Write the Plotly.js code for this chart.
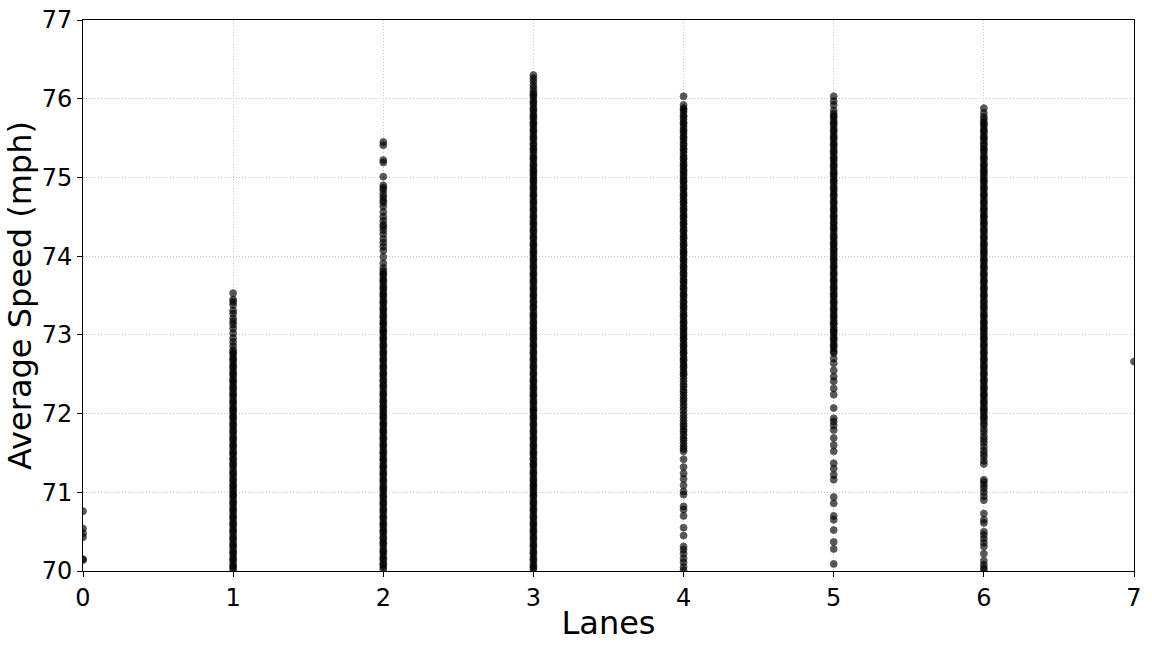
<!DOCTYPE html>
<html>
<head>
<meta charset="utf-8">
<script src="https://cdn.plot.ly/plotly-3.0.1.min.js"></script>
<style>
  html, body { margin: 0; padding: 0; background: #fff; }
  #chart { width: 1152px; height: 648px; }
</style>
</head>
<body>
<div id="chart"></div>
<script>
/* Average speed per segment, grouped by number of lanes */
const lanes = [0, 1, 2, 3, 4, 5, 6, 7];

const speedsLane0 = [70.14, 70.15, 70.43, 70.48, 70.54, 70.76];

const speedsLane1 = [
  70.01,70.04,70.06,70.09,70.13,70.15,70.18,70.22,70.24,70.27,70.31,70.33,70.36,70.40,70.42,70.45,70.49,70.51,70.54,70.58,70.60,70.63,70.67,70.69,70.72,70.76,70.78,70.81,70.85,70.87,70.90,70.94,70.96,70.99,
  71.02,71.05,71.08,71.10,71.14,71.16,71.19,71.23,71.25,71.28,71.32,71.35,71.37,71.41,71.43,71.47,71.50,71.52,71.56,71.59,71.61,71.65,71.68,71.70,71.74,71.77,71.79,71.83,71.86,71.88,71.92,71.95,71.97,
  72.01,72.04,72.06,72.09,72.13,72.15,72.18,72.22,72.24,72.27,72.31,72.33,72.36,72.40,72.42,72.45,72.49,72.51,72.54,72.58,72.60,72.63,72.67,72.69,72.72,72.76,72.78,72.81,
  72.86,72.91,72.96,73.02,73.08,73.13,73.17,73.21,73.27,73.31,73.38,73.42,73.45,73.53
];

const speedsLane2 = [
  70.02,70.05,70.08,70.10,70.14,70.16,70.19,70.23,70.25,70.28,70.32,70.35,70.37,70.41,70.43,70.47,70.50,70.52,70.56,70.59,70.61,70.65,70.68,70.70,70.74,70.77,70.79,70.83,70.86,70.88,70.92,70.95,70.97,
  71.01,71.04,71.06,71.09,71.13,71.15,71.18,71.22,71.24,71.27,71.31,71.33,71.36,71.40,71.42,71.45,71.49,71.51,71.54,71.58,71.60,71.63,71.67,71.69,71.72,71.76,71.78,71.81,71.85,71.87,71.90,71.94,71.96,71.99,
  72.02,72.05,72.08,72.10,72.14,72.16,72.19,72.23,72.25,72.28,72.32,72.35,72.37,72.41,72.43,72.47,72.50,72.52,72.56,72.59,72.61,72.65,72.68,72.70,72.74,72.77,72.79,72.83,72.86,72.88,72.92,72.95,72.97,
  73.01,73.04,73.06,73.09,73.13,73.15,73.18,73.22,73.24,73.27,73.31,73.33,73.36,73.40,73.42,73.45,73.49,73.51,73.54,73.58,73.60,73.63,73.67,73.69,73.72,73.76,73.78,73.81,73.85,
  73.91,73.99,74.07,74.12,74.17,74.22,74.28,74.33,74.37,74.40,74.45,74.50,74.56,74.63,74.68,74.71,74.75,74.79,74.84,74.87,74.90,75.01,75.19,75.22,75.41,75.45
];

const speedsLane3 = [
  70.01,70.04,70.06,70.09,70.13,70.15,70.18,70.22,70.24,70.27,70.31,70.33,70.36,70.40,70.42,70.45,70.49,70.51,70.54,70.58,70.60,70.63,70.67,70.69,70.72,70.76,70.78,70.81,70.85,70.87,70.90,70.94,70.96,70.99,
  71.02,71.05,71.08,71.10,71.14,71.16,71.19,71.23,71.25,71.28,71.32,71.35,71.37,71.41,71.43,71.47,71.50,71.52,71.56,71.59,71.61,71.65,71.68,71.70,71.74,71.77,71.79,71.83,71.86,71.88,71.92,71.95,71.97,
  72.01,72.04,72.06,72.09,72.13,72.15,72.18,72.22,72.24,72.27,72.31,72.33,72.36,72.40,72.42,72.45,72.49,72.51,72.54,72.58,72.60,72.63,72.67,72.69,72.72,72.76,72.78,72.81,72.85,72.87,72.90,72.94,72.96,72.99,
  73.02,73.05,73.08,73.10,73.14,73.16,73.19,73.23,73.25,73.28,73.32,73.35,73.37,73.41,73.43,73.47,73.50,73.52,73.56,73.59,73.61,73.65,73.68,73.70,73.74,73.77,73.79,73.83,73.86,73.88,73.92,73.95,73.97,
  74.01,74.04,74.06,74.09,74.13,74.15,74.18,74.22,74.24,74.27,74.31,74.33,74.36,74.40,74.42,74.45,74.49,74.51,74.54,74.58,74.60,74.63,74.67,74.69,74.72,74.76,74.78,74.81,74.85,74.87,74.90,74.94,74.96,74.99,
  75.02,75.05,75.08,75.10,75.14,75.16,75.19,75.23,75.25,75.28,75.32,75.35,75.37,75.41,75.43,75.47,75.50,75.52,75.56,75.59,75.61,75.65,75.68,75.70,75.74,75.77,75.79,75.83,75.86,75.88,75.92,75.95,75.97,
  76.01,76.04,76.06,76.09,76.13,76.17,76.22,76.26,76.30
];

const speedsLane4 = [
  70.01,70.05,70.11,70.16,70.22,70.27,70.31,70.45,70.55,70.70,70.78,70.82,70.97,71.01,71.09,71.17,71.24,71.32,71.42,
  71.52,71.55,71.58,71.62,71.66,71.69,71.73,71.77,71.80,71.84,71.87,71.91,71.95,71.99,72.04,72.08,72.12,72.16,72.19,72.23,72.27,72.30,72.34,72.37,72.41,
  72.45,72.49,72.51,72.54,72.58,72.60,72.63,72.67,72.69,72.72,72.76,72.78,72.81,72.85,72.87,72.90,72.94,72.96,72.99,
  73.02,73.05,73.08,73.10,73.14,73.16,73.19,73.23,73.25,73.28,73.32,73.35,73.37,73.41,73.43,73.47,73.50,73.52,73.56,73.59,73.61,73.65,73.68,73.70,73.74,73.77,73.79,73.83,73.86,73.88,73.92,73.95,73.97,
  74.01,74.04,74.06,74.09,74.13,74.15,74.18,74.22,74.24,74.27,74.31,74.33,74.36,74.40,74.42,74.45,74.49,74.51,74.54,74.58,74.60,74.63,74.67,74.69,74.72,74.76,74.78,74.81,74.85,74.87,74.90,74.94,74.96,74.99,
  75.02,75.05,75.08,75.10,75.14,75.16,75.19,75.23,75.25,75.28,75.32,75.35,75.37,75.41,75.43,75.47,75.50,75.52,75.56,75.59,75.61,75.65,75.68,75.70,75.74,75.77,75.79,75.83,75.86,75.88,75.92,
  76.03
];

const speedsLane5 = [
  70.09,70.28,70.37,70.52,70.65,70.70,70.86,70.94,71.16,71.22,71.30,71.37,71.52,71.60,71.69,71.79,71.85,71.90,71.94,72.07,72.24,72.32,72.41,72.47,72.55,72.64,72.70,
  72.77,72.79,72.83,72.86,72.88,72.92,72.95,72.97,
  73.01,73.04,73.06,73.09,73.13,73.15,73.18,73.22,73.24,73.27,73.31,73.33,73.36,73.40,73.42,73.45,73.49,73.51,73.54,73.58,73.60,73.63,73.67,73.69,73.72,73.76,73.78,73.81,73.85,73.87,73.90,73.94,73.96,73.99,
  74.02,74.05,74.08,74.10,74.14,74.16,74.19,74.23,74.25,74.28,74.32,74.35,74.37,74.41,74.43,74.47,74.50,74.52,74.56,74.59,74.61,74.65,74.68,74.70,74.74,74.77,74.79,74.83,74.86,74.88,74.92,74.95,74.97,
  75.01,75.04,75.06,75.09,75.13,75.15,75.18,75.22,75.24,75.27,75.31,75.33,75.36,75.40,75.42,75.45,75.49,75.51,75.54,75.58,75.60,75.63,75.67,75.69,75.72,75.76,75.78,75.81,75.85,
  75.92,75.97,76.03
];

const speedsLane6 = [
  70.01,70.04,70.08,70.13,70.22,70.31,70.36,70.41,70.46,70.50,70.61,70.65,70.73,70.90,70.95,71.00,71.05,71.09,71.13,71.16,
  71.36,71.40,71.45,71.49,71.53,71.58,71.63,71.67,71.71,71.76,71.80,71.85,71.88,
  71.92,71.95,71.97,
  72.01,72.04,72.06,72.09,72.13,72.15,72.18,72.22,72.24,72.27,72.31,72.33,72.36,72.40,72.42,72.45,72.49,72.51,72.54,72.58,72.60,72.63,72.67,72.69,72.72,72.76,72.78,72.81,72.85,72.87,72.90,72.94,72.96,72.99,
  73.02,73.05,73.08,73.10,73.14,73.16,73.19,73.23,73.25,73.28,73.32,73.35,73.37,73.41,73.43,73.47,73.50,73.52,73.56,73.59,73.61,73.65,73.68,73.70,73.74,73.77,73.79,73.83,73.86,73.88,73.92,73.95,73.97,
  74.01,74.04,74.06,74.09,74.13,74.15,74.18,74.22,74.24,74.27,74.31,74.33,74.36,74.40,74.42,74.45,74.49,74.51,74.54,74.58,74.60,74.63,74.67,74.69,74.72,74.76,74.78,74.81,74.85,74.87,74.90,74.94,74.96,74.99,
  75.02,75.05,75.08,75.10,75.14,75.16,75.19,75.23,75.25,75.28,75.32,75.35,75.37,75.41,75.43,75.47,75.50,75.52,75.56,75.59,75.61,75.65,75.68,75.70,75.74,75.77,
  75.82,75.88
];

const speedsLane7 = [72.66];

const speedsByLane = [speedsLane0, speedsLane1, speedsLane2, speedsLane3, speedsLane4, speedsLane5, speedsLane6, speedsLane7];

/* flatten into one scatter trace */
const xs = [], ys = [];
lanes.forEach((ln, i) => {
  for (const v of speedsByLane[i]) { xs.push(ln); ys.push(v); }
});

const FONT = 'DejaVu Sans, sans-serif';
const gridc = '#b8b8b8';

const trace = {
  x: xs, y: ys,
  type: 'scatter',
  mode: 'markers',
  marker: { color: '#000', size: 7, opacity: 0.65, line: { width: 0.8, color: '#000' } },
  cliponaxis: true,
  showlegend: false,
  hoverinfo: 'x+y',
};

const axisBase = {
  showline: true, mirror: true, linecolor: '#000', linewidth: 1,
  ticks: 'outside', ticklen: 5, tickwidth: 1, tickcolor: '#000',
  showgrid: true, gridcolor: gridc, gridwidth: 0.8, griddash: '1px,2px',
  zeroline: false, dtick: 1,
  tickfont: { family: FONT, size: 24, color: '#000' },
};

const layout = {
  width: 1152, height: 648,
  paper_bgcolor: '#fff', plot_bgcolor: '#fff',
  margin: { l: 83, r: 18, t: 20, b: 77 },
  font: { family: FONT, color: '#000' },
  xaxis: { ...axisBase, range: [0, 7], tick0: 0,
    title: { text: 'Lanes', font: { family: FONT, size: 32, color: '#000' }, standoff: 0 } },
  yaxis: { ...axisBase, range: [70, 77], tick0: 70,
    title: { text: 'Average Speed (mph)', font: { family: FONT, size: 32, color: '#000' }, standoff: 0 } },
};

Plotly.newPlot('chart', [trace], layout, { displayModeBar: false, staticPlot: true });
</script>
</body>
</html>
